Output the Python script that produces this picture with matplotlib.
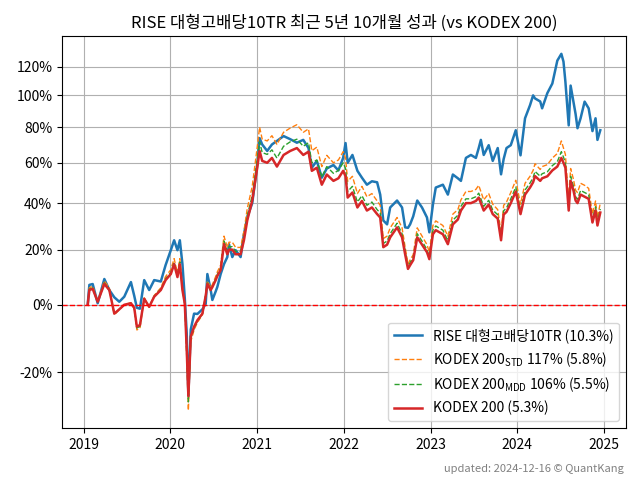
import matplotlib
matplotlib.use('Agg')
import matplotlib.pyplot as plt
import matplotlib.dates as mdates
import matplotlib.ticker as mticker
import pandas as pd

plt.rcParams['font.family'] = ['Noto Sans CJK KR', 'DejaVu Sans']
plt.rcParams['axes.unicode_minus'] = False

# values (cumulative return, %)
dates = [
    '2019-01-18', '2019-01-25', '2019-02-08', '2019-03-01', '2019-03-29', '2019-04-19',
    '2019-05-10', '2019-05-31', '2019-06-21', '2019-07-19', '2019-08-02', '2019-08-13',
    '2019-08-26', '2019-09-13', '2019-10-04', '2019-10-25', '2019-11-22', '2019-12-12',
    '2020-01-03', '2020-01-17', '2020-01-31', '2020-02-10', '2020-02-21', '2020-03-02',
    '2020-03-10', '2020-03-17', '2020-03-27', '2020-04-10', '2020-04-24', '2020-05-15',
    '2020-05-29', '2020-06-05', '2020-06-19', '2020-06-26', '2020-07-10', '2020-07-17',
    '2020-07-31', '2020-08-14', '2020-08-28', '2020-09-04', '2020-09-18', '2020-10-02',
    '2020-10-23', '2020-11-06', '2020-11-20', '2020-12-11',
    '2021-01-01', '2021-01-11', '2021-01-22', '2021-02-12', '2021-03-04', '2021-03-25',
    '2021-04-22', '2021-05-20', '2021-06-17', '2021-07-14', '2021-08-05', '2021-08-19',
    '2021-09-09', '2021-09-30', '2021-10-21', '2021-11-18', '2021-12-09', '2021-12-29',
    '2022-01-08', '2022-01-17', '2022-02-06', '2022-02-27', '2022-03-18', '2022-04-08',
    '2022-04-29', '2022-05-21', '2022-06-03', '2022-06-16', '2022-07-02', '2022-07-15',
    '2022-08-13', '2022-09-03', '2022-09-16', '2022-09-28', '2022-10-07', '2022-10-20',
    '2022-11-06', '2022-11-26', '2022-12-17', '2022-12-27',
    '2023-01-11', '2023-01-23', '2023-02-22', '2023-03-15', '2023-04-05', '2023-04-26',
    '2023-05-09', '2023-05-30', '2023-06-20', '2023-07-11', '2023-07-23', '2023-08-01',
    '2023-08-13', '2023-09-03', '2023-09-20', '2023-10-11', '2023-10-25', '2023-11-05',
    '2023-11-17', '2023-12-05', '2023-12-26',
    '2024-01-15', '2024-02-03', '2024-02-24', '2024-03-08', '2024-03-16', '2024-04-07',
    '2024-04-15', '2024-05-07', '2024-05-28', '2024-06-18', '2024-07-05', '2024-07-14',
    '2024-07-22', '2024-08-05', '2024-08-13', '2024-08-25', '2024-09-03', '2024-09-11',
    '2024-09-24', '2024-10-11', '2024-10-28', '2024-11-13', '2024-11-26', '2024-12-04',
    '2024-12-16',
]

rise = [
    0.0, 6.8, 7.1, 0.5, 8.9, 5.0, 2.5, 1.0, 2.7, 7.8, 3.0, -1.0,
    -1.3, 8.5, 5.0, 8.5, 8.0, 14.0,
    19.8, 23.8, 19.8, 23.8, 14.4, 2.0, -9.0, -26.0, -7.9, -2.9, -3.0, -1.5,
    0.3, 10.7, 5.0, 1.6, 4.5, 6.1, 10.7, 14.4, 17.1, 22.2, 17.1, 19.8,
    17.1, 26.3, 33.5, 40.0,
    58.8, 73.6, 70.0, 66.4, 70.0, 72.0, 74.8, 73.0, 71.0, 72.6, 68.0, 57.4,
    61.0, 52.3, 57.0, 58.8, 56.0, 62.6,
    70.8, 60.0, 64.2, 55.8, 52.3, 48.8, 50.5, 50.0, 44.0, 32.2, 30.5, 38.0,
    41.2, 38.0, 29.2, 29.0, 30.5, 34.0, 41.2, 38.0, 33.5, 27.1,
    39.3, 47.4, 48.8, 44.0, 53.9, 52.0, 50.7, 62.6, 64.2, 62.6, 68.0, 72.6,
    64.2, 69.6, 61.0, 68.0, 54.0, 62.0, 68.0, 69.6, 78.2,
    64.0, 85.4, 93.6, 100.0, 98.0, 96.0, 91.6, 101.5, 108.0, 124.4, 129.5, 123.6,
    109.3, 81.1, 106.6, 95.9, 88.0, 79.4, 85.4, 95.9, 91.6, 77.7, 85.4, 72.6,
    78.2,
]

kodex_std = [
    0.0, 5.8, 6.3, 1.1, 8.2, 5.7, -3.3, -1.6, 0.1, 0.6, -1.2, -8.0,
    -7.5, 2.3, -0.8, 3.1, 5.8, 9.8,
    12.3, 16.5, 11.0, 16.5, 5.7, 0.3, -15.8, -29.5, -11.5, -8.0, -5.7, -3.3,
    3.5, 8.2, 5.8, 6.9, 9.8, 11.5, 14.0, 25.5, 20.9, 23.0, 23.0, 20.9,
    20.9, 27.5, 37.5, 48.0,
    68.5, 80.0, 73.0, 72.0, 75.0, 70.0, 77.0, 79.5, 81.5, 77.0, 79.0, 66.5,
    68.5, 58.0, 64.0, 60.0, 61.5, 66.0,
    62.5, 50.5, 53.0, 44.5, 48.0, 43.0, 44.5, 41.0, 39.0, 24.5, 25.5, 29.0,
    33.5, 29.0, 21.0, 14.5, 16.0, 18.0, 29.0, 25.5, 22.0, 19.0,
    30.0, 32.0, 30.0, 25.5, 35.0, 37.0, 41.5, 45.5, 45.5, 46.5, 48.5, 45.5,
    41.5, 44.5, 39.5, 37.0, 27.0, 39.0, 40.5, 45.0, 51.0,
    39.5, 49.5, 53.0, 56.0, 59.5, 56.5, 58.0, 59.0, 62.5, 65.0, 72.0, 68.0,
    64.5, 41.0, 57.0, 51.5, 46.0, 45.0, 49.5, 48.5, 47.0, 35.0, 41.0, 33.5,
    40.0,
]

kodex_mdd = [
    0.0, 5.3, 5.7, 1.0, 7.5, 5.3, -3.0, -1.5, 0.0, 0.5, -1.1, -7.4,
    -6.9, 2.1, -0.7, 2.9, 5.3, 9.0,
    11.3, 15.2, 10.2, 15.2, 5.3, 0.3, -14.5, -27.5, -10.6, -7.4, -5.3, -3.0,
    3.2, 7.5, 5.3, 6.3, 9.0, 10.6, 12.9, 23.5, 19.3, 21.2, 21.2, 19.3,
    19.3, 25.2, 34.3, 43.5,
    61.5, 71.5, 65.5, 64.5, 67.0, 62.5, 69.0, 71.5, 73.0, 69.0, 71.0, 60.0,
    61.5, 52.5, 58.0, 54.5, 56.0, 60.0,
    57.0, 45.5, 48.0, 40.5, 43.5, 39.0, 40.5, 37.0, 35.5, 22.5, 23.5, 26.5,
    31.0, 26.5, 19.5, 13.5, 15.0, 17.0, 26.5, 23.5, 20.0, 17.3,
    28.0, 29.8, 28.0, 23.6, 32.3, 34.5, 38.5, 42.0, 42.0, 43.0, 44.7, 42.0,
    38.5, 41.3, 36.8, 34.7, 25.0, 36.5, 37.8, 42.0, 47.6,
    36.8, 46.2, 49.6, 52.3, 55.5, 53.0, 54.3, 55.3, 58.5, 60.6, 66.0, 63.0,
    60.0, 38.3, 53.0, 48.0, 43.0, 41.8, 46.0, 45.0, 44.0, 32.7, 38.3, 31.3,
    37.3,
]

kodex200 = [
    0.0, 5.0, 5.4, 1.0, 7.1, 5.0, -2.9, -1.5, 0.0, 0.5, -1.0, -7.0,
    -6.5, 2.0, -0.7, 2.7, 5.0, 8.5,
    10.7, 14.4, 9.6, 14.4, 5.0, 0.3, -13.7, -26.1, -10.0, -7.0, -5.0, -2.9,
    3.0, 7.1, 5.0, 6.0, 8.5, 10.0, 12.2, 22.2, 18.2, 20.0, 20.0, 18.2,
    18.2, 23.8, 32.2, 41.2,
    57.4, 66.4, 61.0, 60.0, 62.6, 58.0, 64.2, 66.4, 68.0, 64.2, 66.0, 55.8,
    57.4, 48.8, 53.9, 50.7, 52.0, 55.8,
    53.0, 42.6, 45.0, 38.0, 41.0, 36.6, 38.0, 35.0, 33.5, 21.0, 22.0, 25.0,
    29.2, 25.0, 18.2, 12.6, 14.0, 15.9, 25.0, 22.0, 19.0, 16.3,
    26.3, 28.0, 26.3, 22.2, 30.5, 32.6, 36.6, 40.0, 40.0, 41.0, 42.6, 40.0,
    36.6, 39.3, 35.0, 33.0, 23.8, 34.8, 36.0, 40.0, 45.5,
    35.0, 44.0, 47.4, 50.0, 53.1, 50.7, 52.0, 53.0, 56.0, 58.0, 62.6, 60.0,
    57.4, 36.6, 50.7, 46.0, 41.2, 40.0, 44.0, 43.0, 42.0, 31.3, 36.6, 30.0,
    35.7,
]

labels = [
    'RISE 대형고배당10TR (10.3%)',
    r'KODEX 200$_{\mathregular{STD}}$ 117% (5.8%)',
    r'KODEX 200$_{\mathregular{MDD}}$ 106% (5.5%)',
    'KODEX 200 (5.3%)',
]
y_ticks = [-20, 0, 20, 40, 60, 80, 100, 120]

t = pd.to_datetime(dates)
to_growth = lambda vals: [1 + v / 100 for v in vals]

fig, ax = plt.subplots(figsize=(6.4, 4.8), dpi=100)
ax.plot(t, to_growth(rise), color='tab:blue', lw=1.8, label=labels[0])
ax.plot(t, to_growth(kodex_std), color='tab:orange', lw=1.0, ls='--', label=labels[1])
ax.plot(t, to_growth(kodex_mdd), color='tab:green', lw=1.0, ls='--', label=labels[2])
ax.plot(t, to_growth(kodex200), color='tab:red', lw=1.8, label=labels[3])
ax.axhline(1.0, color='red', ls='--', lw=1)

ax.set_yscale('log')
ax.yaxis.set_major_locator(mticker.FixedLocator([1 + v / 100 for v in y_ticks]))
ax.yaxis.set_major_formatter(mticker.FuncFormatter(lambda v, p: f'{(v - 1) * 100:.0f}%'))
ax.yaxis.set_minor_locator(mticker.NullLocator())
ax.xaxis.set_major_locator(mdates.YearLocator())
ax.xaxis.set_major_formatter(mdates.DateFormatter('%Y'))
ax.grid(True)
ax.set_title('RISE 대형고배당10TR 최근 5년 10개월 성과 (vs KODEX 200)', fontsize=12)
ax.legend(loc='lower right')

fig.text(0.975, 0.012, 'updated: 2024-12-16 © QuantKang', ha='right', va='bottom',
         fontsize=8, color='gray')
fig.subplots_adjust(left=0.097, right=0.978, top=0.925, bottom=0.108)
fig.savefig('out.png', dpi=100)
